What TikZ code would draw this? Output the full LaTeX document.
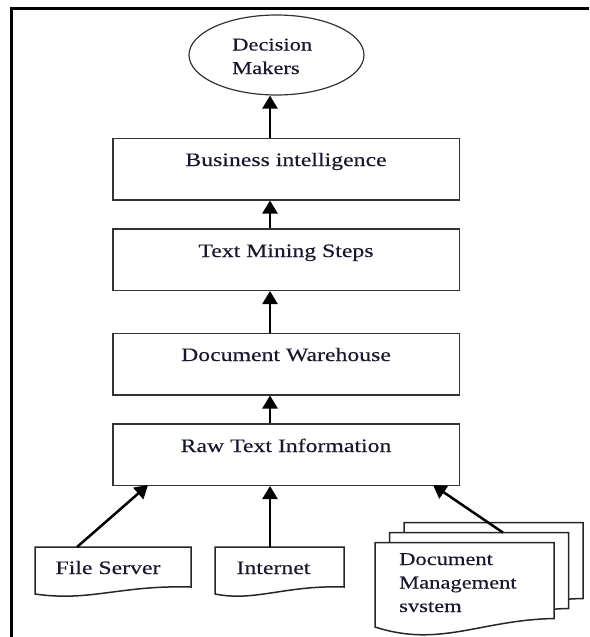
\documentclass[tikz,border=0pt]{standalone}
\usepackage{fontspec}
\setmainfont{Liberation Serif}[FakeStretch=1.25,FakeBold=0.3]
\usetikzlibrary{arrows.meta,shapes.geometric}
\definecolor{txtc}{RGB}{25,25,45}
\begin{document}
\begin{tikzpicture}[x=1pt,y=-1pt,
  box/.style={draw=black!80, line width=1.5pt, minimum width=346.5pt, minimum height=61.5pt, inner sep=0pt},
  lbl/.style={font=\fontsize{19}{23}\selectfont, text=txtc, inner sep=0pt, anchor=base},
  small/.style={font=\fontsize{18}{23.5}\selectfont, text=txtc, inner sep=0pt, align=left, anchor=base west},
  arr/.style={line width=2.5pt, -{Triangle[width=15pt,length=13pt]}},
  doc/.style={draw=black!85, line width=1.5pt, fill=white},
  frameline/.style={line width=2.5pt}]
\useasboundingbox (0,0) rectangle (589,637);
% frame
\draw[frameline] (11.5,637) -- (11.5,8.5) -- (589,8.5);
% ellipse
\node[ellipse, draw=black!80, line width=1.2pt, minimum width=175pt, minimum height=80pt, inner sep=0pt] (ell) at (276.5,55) {};
\node[small] (dm) at (232,74) {Decision\\Makers};
% boxes
\node[box] (bi) at (286.25,169) {};
\node[lbl] (bit) at (286,166) {Business intelligence};
\node[box] (tms) at (286.25,259.5) {};
\node[lbl] (tmst) at (286,257) {Text Mining Steps};
\node[box] (dw) at (286.25,364) {};
\node[lbl] (dwt) at (286,361) {Document Warehouse};
\node[box] (rti) at (286.25,454.5) {};
\node[lbl] (rtit) at (286,452) {Raw Text Information};
% sources
\draw[doc] (35,594) -- (35,547) -- (191,547) -- (191,587) .. controls (120,585) and (90,602) .. (35,594) -- cycle;
\node[lbl] (fs) at (108,574) {File Server};
\draw[doc] (215,594) -- (215,547) -- (344,547) -- (344,587) .. controls (285,585) and (255,602) .. (215,594) -- cycle;
\node[lbl] (inet) at (273.5,574) {Internet};
\foreach \dx/\dy in {29/-20, 14.5/-10, 0/0}
  \draw[doc, shift={(\dx,\dy)}] (375,627) -- (375,542.6) -- (554,542.6) -- (554,618.5) .. controls (480,620) and (440,648) .. (375,627) -- cycle;
\node[small] (dms) at (399,612) {Document\\Management\\svstem};
% connector anchors
\coordinate (ax) at (270,0);
\coordinate (fsTop) at (77,547);
\coordinate (inTop) at (270,547);
\coordinate (dmsTop) at (503,532.6);
\coordinate (rtiL) at (148,485);
\coordinate (rtiR) at (433,485);
% arrows
\draw[arr] (ax |- bi.north) -- (ax |- ell.south);
\draw[arr] (ax |- tms.north) -- (ax |- bi.south);
\draw[arr] (ax |- dw.north) -- (ax |- tms.south);
\draw[arr] (ax |- rti.north) -- (ax |- dw.south);
\draw[arr] (inTop) -- (ax |- rti.south);
\draw[arr] (fsTop) -- (rtiL);
\draw[arr] (dmsTop) -- (rtiR);
\end{tikzpicture}
\end{document}
